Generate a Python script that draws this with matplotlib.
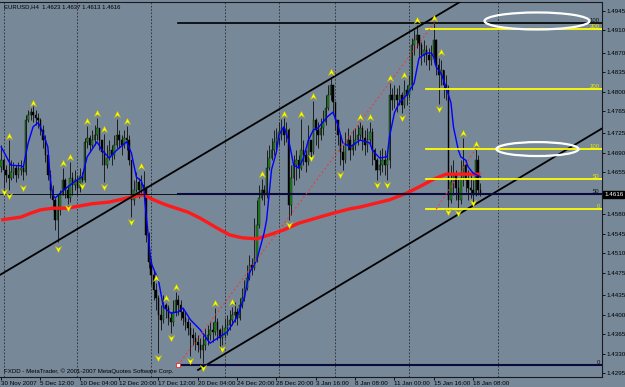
import matplotlib
matplotlib.use("Agg")
import matplotlib.pyplot as plt
import numpy as np
from matplotlib.path import Path
from matplotlib.patches import Ellipse
import matplotlib.transforms as mtransforms

plt.rcParams['font.family'] = ['Liberation Sans', 'DejaVu Sans']

# ---------------- data (prices in pips above 1.4000) ----------------
first_bar = -1
open_first = 665
close_pips = [677, 660, 651, 645, 656, 663, 651, 660, 663, 656,
              749, 758, 763, 758, 753, 749, 731, 713, 686, 651, 624, 606, 570, 588,
              615, 642, 624, 609, 645, 633, 642, 627, 649, 642,
              710, 717, 704, 713, 722, 735, 713, 692, 668, 681, 695, 686, 704, 722, 713, 704, 717, 713, 677, 606, 624, 638, 624, 633, 627,
              543, 495, 471, 444, 430, 399, 391, 417, 412, 394, 387, 405, 426, 417, 405, 394, 387, 376, 364, 358, 351, 346, 337, 346, 355,
              364, 373, 369, 387, 373, 358, 364, 376, 382, 391, 399, 405, 394, 417, 430, 448, 466, 489, 484, 502, 561, 609, 624, 615, 663,
              681, 695, 710, 717, 728, 735, 722, 731, 597, 645, 668, 677, 663, 695, 686, 674,
              713, 692, 749, 731, 722, 735, 746, 771, 794, 812, 781, 749, 722, 692, 677, 704, 713, 695, 704, 713, 722, 735, 717, 704, 713,
              728, 695, 677, 660, 668, 677, 668, 677, 794, 785, 794, 785, 794, 776, 803, 794, 812, 884, 893, 902, 884, 866, 875, 866, 857,
              866, 893, 848, 830, 839, 812, 803,
              606, 638, 651, 627, 606, 645, 668, 642, 627, 624, 615, 677, 623, 616]
high_pips = [704, 681, 668, 713, 677, 674, 668, 674, 677, 668,
             758, 767, 771, 774, 767, 762, 753, 740, 722, 695, 660, 633, 609, 615,
             624, 663, 645, 633, 674, 656, 660, 651, 663, 656,
             717, 738, 722, 731, 740, 753, 735, 713, 724, 704, 713, 704, 722, 751, 731, 722, 731, 738, 722, 677, 642, 656, 645, 651, 658,
             630, 548, 502, 480, 457, 435, 417, 435, 421, 417, 405, 426, 441, 435, 426, 412, 405, 394, 387, 376, 369, 364, 358, 364, 376,
             382, 387, 387, 412, 394, 376, 382, 394, 399, 408, 414, 423, 412, 430, 448, 462, 489, 507, 502, 573, 606, 633, 643, 633, 695,
             704, 717, 731, 735, 746, 751, 753, 746, 735, 668, 686, 695, 686, 751, 713, 695,
             740, 713, 783, 753, 746, 753, 767, 794, 812, 826, 812, 776, 749, 725, 704, 728, 735, 722, 731, 735, 740, 746, 740, 731, 735,
             746, 735, 699, 681, 695, 699, 695, 695, 815, 806, 812, 806, 812, 799, 821, 812, 830, 896, 910, 919, 902, 889, 893, 884, 878,
             884, 923, 895, 860, 857, 839, 830,
             812, 668, 677, 660, 645, 677, 717, 677, 660, 651, 642, 697, 686, 637]
low_pips = [656, 627, 638, 624, 642, 645, 638, 645, 651, 642,
            650, 746, 749, 746, 740, 735, 722, 699, 674, 642, 609, 588, 552, 530,
            579, 615, 609, 599, 602, 615, 624, 615, 620, 638,
            638, 699, 692, 699, 704, 713, 695, 668, 638, 663, 677, 668, 680, 698, 699, 686, 699, 695, 668, 575, 597, 620, 609, 615, 609,
            530, 484, 453, 426, 408, 331, 373, 385, 394, 382, 367, 380, 398, 399, 391, 382, 373, 364, 326, 346, 337, 333, 322, 313, 337,
            346, 355, 351, 364, 355, 339, 346, 358, 364, 373, 382, 387, 382, 390, 412, 425, 444, 462, 471, 480, 495, 556, 606, 597, 609,
            660, 677, 686, 695, 704, 713, 704, 710, 570, 579, 633, 642, 645, 660, 668, 656,
            668, 681, 688, 704, 699, 713, 722, 740, 767, 785, 763, 731, 704, 668, 660, 672, 695, 677, 686, 695, 704, 713, 695, 686, 692,
            704, 668, 660, 642, 651, 656, 651, 642, 663, 767, 771, 763, 776, 762, 770, 776, 788, 803, 866, 878, 860, 848, 853, 848, 839,
            848, 853, 830, 778, 812, 788, 785,
            593, 600, 615, 606, 591, 598, 630, 620, 606, 609, 600, 612, 615, 613]

blue_bar = [-1, 3, 7, 8, 10, 12, 14, 15, 18, 19, 20, 21, 23, 26, 30, 32, 34, 38, 40, 43, 46, 50, 52, 54, 56, 57, 58,
            60, 63, 65, 68, 71, 73, 76, 80, 84, 87, 91, 95, 98, 100, 103, 106, 107, 109, 111, 112, 114, 116, 118, 120,
            122, 124, 126, 128, 130, 132, 134, 136, 138, 141, 145, 149, 150, 153, 156, 157, 159, 161, 164, 167, 169,
            172, 174, 175, 176, 178, 180, 182, 183, 185, 186, 188, 189, 191, 194]
blue_pips = [701, 668, 667, 665, 708, 737, 744, 737, 701, 642, 615, 609, 618, 629, 642, 647, 683, 710, 695, 681, 695, 710, 690, 647, 640, 627, 579,
             493, 462, 414, 403, 405, 412, 391, 373, 349, 358, 369, 396, 432, 475, 498, 547, 570, 660, 692, 722, 737, 713, 668, 663,
             681, 713, 731, 735, 746, 756, 763, 740, 708, 701, 713, 708, 695, 681, 683, 719, 762, 780, 794, 815, 860,
             869, 869, 862, 844, 833, 808, 780, 737, 695, 683, 677, 665, 654, 647]

red_bar = [-1, 7, 11, 15, 20, 26, 31, 36, 43, 50, 54, 57, 61, 66, 75, 80, 87, 92, 97, 103, 108, 114, 120, 127, 134,
           141, 145, 157, 164, 169, 175, 180, 194]
red_pips = [570, 575, 582, 588, 591, 591, 595, 599, 602, 609, 613, 615, 606, 597, 584, 573, 555, 543, 538, 536, 543, 552,
            564, 573, 582, 590, 593, 606, 618, 629, 643, 652, 652]

up_frac_bar = [2, 12, 24, 27, 34, 38, 41, 46, 50, 56, 62, 66, 70, 86, 93, 105, 114, 121, 126, 133, 145, 149, 157, 163,
               168, 175, 178, 187, 192]
up_frac_pips = [720, 780, 672, 683, 747, 762, 733, 760, 747, 667, 466, 430, 450, 421, 423, 652, 760, 760, 792, 835, 754,
                754, 824, 830, 928, 932, 871, 726, 706]
dn_frac_bar = [0, 2, 8, 22, 26, 32, 41, 52, 63, 68, 76, 81, 89, 116, 125, 137, 152, 156, 162, 177, 181, 185, 191]
dn_frac_pips = [620, 613, 627, 518, 591, 631, 629, 566, 322, 358, 317, 305, 339, 561, 681, 650, 633, 633, 753, 769, 584,
                582, 600]

# Fibonacci / drawing objects
fib1_start_bar = 71
fib1_low, fib1_high = 1.4310, 1.49235
fib1_levels = [0, 50, 100]
fib2_start_bar = 172
fib2_zero, fib2_hundred = 1.4589, 1.4697
fib2_levels = [0, 50, 100, 200, 300]
fib2_diag_bar = [176, 192]
upper_line_bar = [8.7, 161.3]
upper_line_pips = [498, 897]
lower_line_bar = [79.1, 226.4]
lower_line_pips = [301, 689]
bid_price = 1.4616
grid_bars = [0, 30, 60, 90, 112, 135, 165, 201]

yticks = [1.4945, 1.4910, 1.4870, 1.4835, 1.4800, 1.4765, 1.4725, 1.4690, 1.4655, 1.4580, 1.4545,
          1.4510, 1.4475, 1.4435, 1.4400, 1.4365, 1.4330, 1.4295]
xtick_bars = [-1] + [15 + 16 * k for k in range(12)]
xtick_labels = ["30 Nov 2007", "5 Dec 12:00", "10 Dec 04:00", "12 Dec 20:00", "17 Dec 12:00", "20 Dec 04:00",
                "24 Dec 20:00", "28 Dec 20:00", "3 Jan 16:00", "8 Jan 08:00", "11 Jan 00:00", "15 Jan 16:00",
                "18 Jan 08:00"]

def P(v):
    return 1.4 + np.asarray(v, dtype=float) / 10000.0

# ---------------- figure ----------------
BG = "#778899"
W, H = 625, 387
fig = plt.figure(figsize=(W / 100, H / 100), dpi=100, facecolor=BG)
left_px, right_px, top_px, bot_px = 0, 601.5, 2, 376.5
ax = fig.add_axes([left_px / W, 1 - bot_px / H, (right_px - left_px) / W, (bot_px - top_px) / H])
ax.set_facecolor(BG)

px_per_bar = 2.458
x0_px = 3.6
ax.set_xlim((left_px - x0_px) / px_per_bar, (right_px - x0_px) / px_per_bar)
ax.set_ylim(P(964.2 - 1.7926 * bot_px), P(964.2 - 1.7926 * top_px))

ax.spines["left"].set_visible(False)
for s in ["top", "right", "bottom"]:
    ax.spines[s].set_color("#1a1a1a")
    ax.spines[s].set_linewidth(0.8)

# grid
for g in grid_bars:
    ax.axvline(g, color="#2a2a2a", lw=0.6, ls=(0, (2, 2)), zorder=1)

# candles
n = len(close_pips)
xs = np.arange(first_bar, first_bar + n)
closes = P(close_pips)
opens = np.concatenate([[P(open_first)], closes[:-1]])
highs = P(high_pips)
lows = P(low_pips)
ax.vlines(xs, lows, highs, color="#1e1e1e", lw=0.7, zorder=3)
up = closes >= opens
ax.bar(xs[up], (closes - opens)[up], bottom=opens[up], width=0.6, color="#1f8a1f",
       edgecolor="#101010", linewidth=0.3, zorder=4)
ax.bar(xs[~up], (closes - opens)[~up], bottom=opens[~up], width=0.6, color="#000000",
       edgecolor="#000000", linewidth=0.3, zorder=4)

# moving averages
ax.plot(red_bar, P(red_pips), color="#ff1a1a", lw=2.4, zorder=5, solid_capstyle="butt")
ax.plot(blue_bar, P(blue_pips), color="#0000ff", lw=1.0, zorder=6)

# channel lines
ax.axline((upper_line_bar[0], P(upper_line_pips[0])), (upper_line_bar[1], P(upper_line_pips[1])),
          color="#000000", lw=1.3, zorder=7)
slope = (P(lower_line_pips[1]) - P(lower_line_pips[0])) / (lower_line_bar[1] - lower_line_bar[0])
xe = (right_px - x0_px) / px_per_bar + 2
ax.plot([lower_line_bar[0], xe], [P(lower_line_pips[0]), P(lower_line_pips[0]) + slope * (xe - lower_line_bar[0])],
        color="#000000", lw=1.3, zorder=7)

blend = mtransforms.blended_transform_factory(ax.transAxes, ax.transData)

# fib 1 (navy/black)
xend = (right_px - x0_px) / px_per_bar
for lv in fib1_levels:
    y = fib1_low + (fib1_high - fib1_low) * lv / 100
    col = "#000000" if lv == 100 else "#0a0a3c"
    ax.plot([fib1_start_bar, xend], [y, y], color=col, lw=1.5 if lv != 100 else 1.2, zorder=7)
    ax.text(0.997, y, str(lv), transform=blend, ha="right", va="bottom", fontsize=4.3, color="#101010", zorder=9)
ax.plot([fib1_start_bar, 175.3], [fib1_low, fib1_high], color="#ff3030", lw=0.8, ls=(0, (1.5, 2.5)), zorder=8)
ax.plot([fib1_start_bar], [fib1_low], marker="s", ms=2.2, mfc="white", mec="#ff2020", mew=0.6, zorder=9)

# fib 2 (yellow)
for lv in fib2_levels:
    y = fib2_zero + (fib2_hundred - fib2_zero) * lv / 100
    ax.plot([fib2_start_bar, xend], [y, y], color="#ffff00", lw=1.3, zorder=7)
    ax.text(0.997, y, str(lv), transform=blend, ha="right", va="bottom", fontsize=4.3, color="#e8e800", zorder=9)
ax.plot(fib2_diag_bar, [fib2_zero, fib2_hundred], color="#ff3030", lw=0.8, ls=(0, (1.5, 2.5)), zorder=8)

# bid line
ax.axhline(bid_price, color="#000000", lw=0.6, zorder=6)

# fractal arrows
up_arrow = Path([(-1, -1), (0, 1), (1, -1), (0, -0.3), (-1, -1)],
                [Path.MOVETO, Path.LINETO, Path.LINETO, Path.LINETO, Path.CLOSEPOLY])
dn_arrow = Path([(-1, 1), (0, -1), (1, 1), (0, 0.3), (-1, 1)],
                [Path.MOVETO, Path.LINETO, Path.LINETO, Path.LINETO, Path.CLOSEPOLY])
ax.plot(up_frac_bar, P(up_frac_pips), ls="none", marker=up_arrow, ms=4.6, mfc="#ffff00", mec="#b8b800",
        mew=0.3, zorder=10)
ax.plot(dn_frac_bar, P(dn_frac_pips), ls="none", marker=dn_arrow, ms=4.6, mfc="#ffff00", mec="#b8b800",
        mew=0.3, zorder=10)

# ellipses
ax.add_patch(Ellipse((217, P(926.6)), 42.7, 30.5 / 10000, fill=False, edgecolor="white", lw=1.6, zorder=11))
ax.add_patch(Ellipse((217.2, P(697)), 33.4, 25 / 10000, fill=False, edgecolor="white", lw=1.6, zorder=11))

# axes ticks
ax.yaxis.tick_right()
ax.set_yticks(yticks)
ax.set_yticklabels([f"{v:.4f}" for v in yticks])
ax.tick_params(axis="y", right=True, left=False, length=2.5, width=0.6, pad=1.2, labelsize=4.5,
               colors="#000000")
ax.set_xticks(xtick_bars)
ax.set_xticklabels(xtick_labels)
ax.tick_params(axis="x", length=2.5, width=0.6, pad=1.0, labelsize=4.5, colors="#000000")
for lab in ax.get_xticklabels():
    lab.set_horizontalalignment("left")

# bid label
ax.text(1.0045, bid_price, f"{bid_price:.4f}", transform=blend,
        ha="left", va="center", fontsize=4.5, color="white", zorder=12, clip_on=False,
        bbox=dict(boxstyle="square,pad=0.15", fc="#000000", ec="#000000"))

# texts
fig.text(4 / W, 1 - 7 / H, "EURUSD,H4  1.4623 1.4637 1.4613 1.4616", fontsize=4.3, color="#000000", va="center")
fig.text(4 / W, 1 - 371 / H, "FXDD - MetaTrader, \u00a9 2001-2007 MetaQuotes Software Corp.", fontsize=4.4,
         color="#000000", va="center")

fig.savefig("out.png", dpi=100, facecolor=BG)
